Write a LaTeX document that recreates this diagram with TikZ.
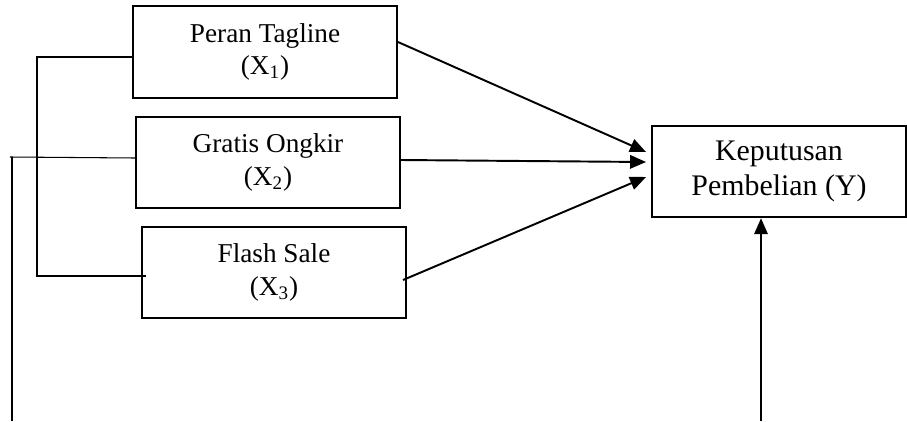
\documentclass[tikz,border=0pt]{standalone}
\usepackage{fontspec}
\setmainfont{Liberation Serif}
\usetikzlibrary{arrows.meta}

\begin{document}
\begin{tikzpicture}[
    var/.style={draw, line width=1.1pt, minimum width=5.28cm, minimum height=1.83cm,
      align=center, font=\fontsize{15.5}{18.5}\selectfont},
    arr/.style={-{Triangle[length=0.32cm,width=0.27cm]}, line width=1.1pt}
  ]
  \useasboundingbox (0,0) rectangle (18.14,8.42);

  \node[var] (x1) at (5.30,7.38) {Peran Tagline\\(X\textsubscript{1})};
  \node[var] (x2) at (5.36,5.17) {Gratis Ongkir\\(X\textsubscript{2})};
  \node[var] (x3) at (5.48,2.97) {Flash Sale\\(X\textsubscript{3})};
  \node[var, minimum width=5.08cm, font=\fontsize{17}{20}\selectfont] (y) at (15.58,4.99) {Keputusan\\Pembelian (Y)};

  % arrows into Y
  \draw[arr] ([yshift=0.2cm]x1.east) -- ([xshift=-0.1cm,yshift=0.39cm]y.west);
  \draw[arr] ([yshift=0.05cm]x2.east) -- ([xshift=-0.1cm,yshift=0.19cm]y.west);
  \draw[arr] ([xshift=-0.08cm,yshift=-0.15cm]x3.east) -- ([xshift=-0.1cm,yshift=-0.11cm]y.west);

  % left bracket X1 - X3
  \coordinate (a1) at (0.74,7.28);
  \coordinate (a3) at (0.74,2.90);
  \draw[line width=1.1pt] (x1.west |- a1) -- (a1) -- (a3) -- ([xshift=0.1cm]x3.west |- a3);

  % line from X2
  \coordinate (b1) at (0.20,5.28);
  \coordinate (b2) at (0.24,5.28);
  \coordinate (b3) at (0.24,0);
  \draw[line width=0.6pt] (b1) -- ([yshift=0.09cm]x2.west);
  \draw[line width=1.1pt] (b2) -- (b3);

  % arrow from below into Y
  \coordinate (c1) at (15.22,0);
  \draw[arr] (c1) -- (y.south -| c1);
\end{tikzpicture}
\end{document}
